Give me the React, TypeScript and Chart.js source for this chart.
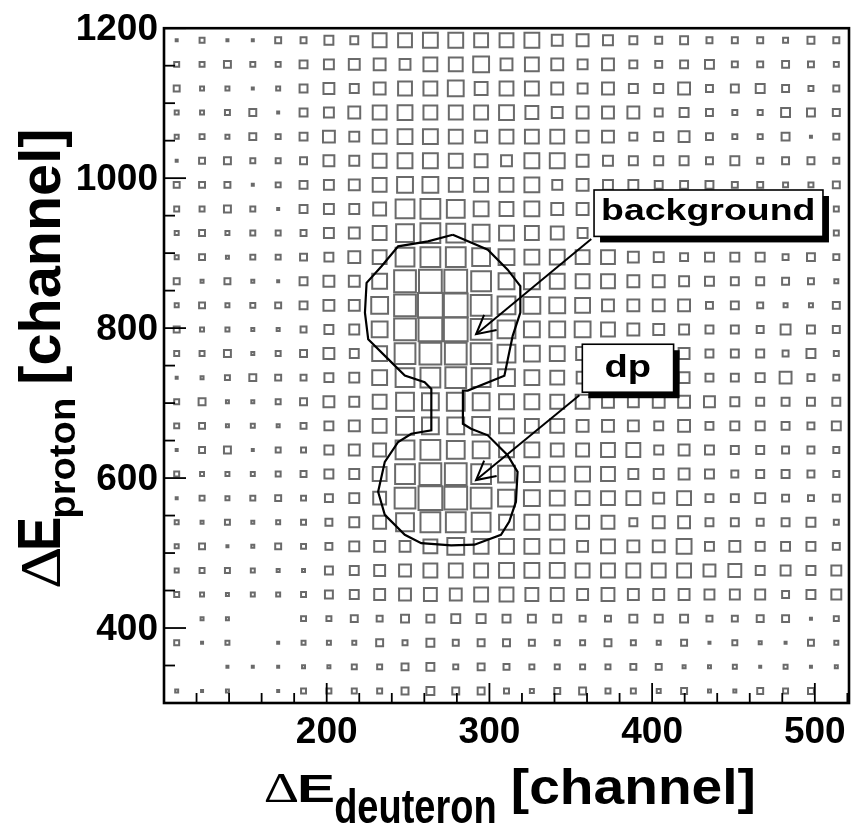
import React, { useEffect, useRef } from 'react';
import { Chart, registerables } from 'chart.js';

Chart.register(...registerables);

// ---------------- axis ranges / binning ----------------
const X_MIN = 100;
const X_MAX = 521;
const X_BINS = 27;
const Y_MIN = 300;
const Y_MAX = 1200;
const Y_BINS = 28;
const X_MINOR_STEP = 20;
const X_MAJOR_STEP = 100;
const X_LABEL_VALUES = [200, 300, 400, 500];
const Y_MINOR_STEP = 50;
const Y_MAJOR_STEP = 200;
const Y_LABEL_VALUES = [400, 600, 800, 1000, 1200];
const BOX_FULL = 25; // content that fills a whole bin

// ---------------- bin contents (rows from top y=1200 down to y=300, columns from x=100 to x=521) ----------------
const binContents: number[][] = [
  [2, 5, 2, 2, 6, 6, 9, 8, 14, 14, 15, 15, 14, 14, 15, 11, 12, 10, 8, 7, 8, 6, 6, 6, 5, 7, 6],
  [5, 5, 7, 5, 5, 8, 10, 11, 12, 11, 14, 14, 16, 12, 14, 12, 10, 12, 8, 7, 8, 9, 6, 6, 7, 6, 5],
  [6, 4, 4, 2, 4, 8, 11, 9, 12, 14, 14, 16, 13, 14, 14, 12, 10, 12, 9, 9, 12, 7, 8, 9, 7, 5, 6],
  [4, 4, 5, 7, 2, 8, 10, 12, 14, 15, 14, 14, 14, 15, 13, 11, 12, 12, 12, 8, 9, 7, 5, 5, 9, 8, 7],
  [4, 5, 4, 7, 5, 8, 12, 10, 14, 15, 15, 14, 12, 14, 14, 14, 12, 12, 8, 9, 11, 7, 5, 5, 8, 2, 6],
  [2, 6, 7, 5, 5, 7, 11, 10, 14, 15, 15, 14, 13, 11, 15, 15, 12, 10, 9, 9, 9, 7, 9, 6, 7, 7, 6],
  [6, 6, 6, 2, 5, 8, 10, 11, 14, 16, 16, 14, 14, 14, 15, 10, 12, 10, 10, 8, 8, 8, 6, 6, 5, 5, 7],
  [5, 5, 7, 5, 2, 8, 10, 10, 13, 19, 20, 18, 15, 14, 15, 12, 12, 10, 9, 9, 8, 8, 7, 7, 6, 6, 5],
  [4, 6, 4, 5, 5, 6, 10, 11, 14, 18, 20, 19, 17, 15, 14, 13, 10, 10, 9, 9, 8, 8, 7, 7, 6, 6, 5],
  [4, 6, 3, 5, 5, 7, 9, 12, 14, 19, 20, 20, 18, 16, 15, 15, 14, 14, 11, 10, 8, 9, 9, 9, 6, 8, 6],
  [6, 3, 6, 3, 2, 8, 11, 11, 15, 22, 23, 23, 20, 16, 16, 15, 14, 14, 12, 12, 10, 9, 8, 8, 7, 6, 4],
  [4, 6, 4, 5, 6, 8, 11, 11, 17, 22, 25, 24, 21, 18, 17, 16, 15, 12, 12, 12, 12, 7, 8, 6, 4, 4, 7],
  [6, 4, 4, 3, 3, 6, 9, 10, 16, 22, 24, 24, 21, 18, 16, 16, 16, 14, 12, 11, 10, 8, 8, 7, 10, 8, 7],
  [5, 5, 7, 3, 5, 7, 11, 9, 15, 21, 22, 22, 21, 18, 16, 15, 13, 12, 11, 11, 11, 8, 8, 8, 6, 9, 5],
  [2, 3, 5, 7, 6, 6, 9, 10, 15, 19, 20, 21, 19, 17, 15, 14, 12, 12, 11, 10, 11, 8, 8, 9, 12, 7, 6],
  [5, 7, 3, 3, 5, 7, 11, 10, 14, 18, 17, 18, 17, 15, 15, 14, 14, 12, 11, 12, 12, 11, 9, 8, 8, 8, 8],
  [5, 6, 3, 4, 3, 6, 9, 11, 14, 18, 17, 17, 18, 15, 14, 14, 12, 12, 11, 9, 12, 8, 9, 9, 8, 7, 9],
  [2, 6, 7, 2, 5, 5, 9, 11, 13, 19, 20, 18, 17, 15, 15, 13, 13, 14, 14, 9, 11, 9, 8, 8, 7, 7, 6],
  [5, 4, 4, 4, 5, 6, 9, 10, 14, 20, 22, 22, 20, 17, 16, 15, 15, 14, 10, 10, 11, 9, 7, 8, 8, 7, 6],
  [2, 5, 4, 5, 6, 5, 8, 10, 13, 21, 24, 23, 21, 17, 16, 15, 14, 14, 14, 11, 14, 8, 8, 10, 7, 6, 7],
  [4, 3, 5, 3, 4, 5, 7, 10, 13, 18, 20, 20, 19, 15, 15, 15, 13, 13, 8, 12, 12, 8, 8, 7, 8, 9, 5],
  [4, 6, 2, 3, 6, 5, 7, 10, 11, 11, 14, 17, 15, 15, 15, 14, 11, 14, 12, 12, 15, 9, 11, 9, 9, 9, 7],
  [4, 5, 5, 4, 3, 3, 8, 9, 11, 12, 14, 14, 14, 15, 15, 15, 14, 14, 14, 14, 14, 12, 13, 9, 10, 9, 10],
  [5, 4, 3, 4, 4, 5, 8, 9, 11, 12, 13, 12, 14, 14, 13, 13, 11, 13, 11, 11, 11, 10, 10, 10, 7, 9, 10],
  [0, 3, 3, 0, 0, 5, 5, 7, 6, 8, 8, 9, 9, 8, 8, 8, 6, 6, 8, 8, 8, 6, 6, 7, 7, 2, 5],
  [5, 2, 4, 0, 2, 4, 4, 4, 7, 5, 8, 6, 7, 7, 6, 5, 5, 7, 5, 4, 6, 2, 5, 3, 2, 6, 4],
  [0, 0, 2, 2, 2, 3, 3, 5, 5, 7, 8, 5, 7, 6, 5, 5, 5, 5, 6, 6, 3, 3, 4, 2, 4, 2, 3],
  [3, 2, 3, 0, 2, 5, 5, 5, 5, 7, 8, 7, 7, 5, 4, 6, 7, 5, 5, 4, 6, 3, 3, 6, 5, 6, 0],
];

// ---------------- graphical cut (closed contour) ----------------
const contourX = [
  277.5, 299.0, 311.2, 319.0, 319.0, 314.3, 309.2, 286.7, 283.7, 283.7, 288.7, 299.0, 311.2,
  317.3, 316.3, 312.2, 307.1, 290.8, 276.5, 258.1, 248.0, 235.7, 231.6, 235.7, 243.9, 252.0,
  264.3, 264.3, 260.2, 248.0, 237.8, 225.5, 223.5, 224.5, 233.7, 243.9, 262.2, 277.5,
];
const contourY = [
  924.5, 904.6, 878.0, 856.0, 820.6, 789.7, 736.6, 716.7, 716.7, 672.4, 665.8, 657.0, 630.5,
  608.3, 568.5, 542.0, 524.4, 511.1, 510.2, 513.2, 524.4, 550.9, 581.8, 621.6, 648.1, 659.1,
  663.6, 718.8, 727.7, 736.6, 758.6, 785.2, 820.6, 860.4, 882.5, 909.1, 915.7, 924.5,
];

// ---------------- labelled arrows ----------------
const annotationTexts = ['background', 'dp'];
const annotationBoxX = [[364.3, 505.0], [357.1, 413.2]];
const annotationBoxY = [[922.3, 984.2], [714.5, 778.5]];
const arrowFrom = [[362.6, 918.8], [355.3, 710.5]];
const arrowTo = [[291.8, 791.8], [291.8, 597.3]];

const annotationStyle = [
  { inkFrac: 0.918, topFrac: 0.18, baseFrac: 0.645 },
  { inkFrac: 0.49, topFrac: 0.21, baseFrac: 0.69 },
];

const SANS = '"Liberation Sans", Arial, Helvetica, sans-serif';
const SERIF = '"Liberation Serif", "Times New Roman", serif';

function fitText(
  ctx: CanvasRenderingContext2D,
  text: string,
  font: string,
  left: number,
  right: number,
  baseline: number,
  top: number
) {
  ctx.save();
  ctx.font = font;
  ctx.textAlign = 'left';
  ctx.textBaseline = 'alphabetic';
  const m = ctx.measureText(text);
  const inkW = m.actualBoundingBoxLeft + m.actualBoundingBoxRight;
  const inkH = m.actualBoundingBoxAscent;
  const sx = (right - left) / inkW;
  const sy = (baseline - top) / inkH;
  ctx.translate(left, baseline);
  ctx.scale(sx, sy);
  ctx.fillStyle = '#000';
  ctx.fillText(text, m.actualBoundingBoxLeft, 0);
  ctx.restore();
}

function drawLine(ctx: CanvasRenderingContext2D, x1: number, y1: number, x2: number, y2: number) {
  ctx.beginPath();
  ctx.moveTo(x1, y1);
  ctx.lineTo(x2, y2);
  ctx.stroke();
}

const rootStylePlugin = {
  id: 'rootStyle',
  afterDatasetsDraw(chart: any) {
    const { ctx, chartArea: a } = chart;
    const xs = chart.scales.x;
    const ys = chart.scales.y;
    ctx.save();
    ctx.strokeStyle = '#000';
    ctx.lineCap = 'butt';
    // inward tick marks
    ctx.lineWidth = 1.8;
    for (let v = X_MIN; v <= X_MAX + 1e-6; v += X_MINOR_STEP) {
      const px = xs.getPixelForValue(v);
      const len = v % X_MAJOR_STEP === 0 ? 20 : 10;
      drawLine(ctx, px, a.bottom, px, a.bottom - len);
    }
    for (let v = Y_MIN; v <= Y_MAX + 1e-6; v += Y_MINOR_STEP) {
      const py = ys.getPixelForValue(v);
      const len = v % Y_MAJOR_STEP === 0 ? 22 : 11;
      drawLine(ctx, a.left, py, a.left + len, py);
    }
    // frame
    ctx.lineWidth = 2.6;
    ctx.strokeRect(a.left, a.top, a.right - a.left, a.bottom - a.top);

    // arrows
    ctx.lineWidth = 2;
    ctx.lineJoin = 'miter';
    for (let i = 0; i < annotationTexts.length; i++) {
      const fx = xs.getPixelForValue(arrowFrom[i][0]);
      const fy = ys.getPixelForValue(arrowFrom[i][1]);
      const tx = xs.getPixelForValue(arrowTo[i][0]);
      const ty = ys.getPixelForValue(arrowTo[i][1]);
      drawLine(ctx, fx, fy, tx, ty);
      const ang = Math.atan2(fy - ty, fx - tx);
      const head = 21;
      const spread = (28 * Math.PI) / 180;
      ctx.beginPath();
      ctx.moveTo(tx + head * Math.cos(ang + spread), ty + head * Math.sin(ang + spread));
      ctx.lineTo(tx, ty);
      ctx.lineTo(tx + head * Math.cos(ang - spread), ty + head * Math.sin(ang - spread));
      ctx.stroke();
    }

    // label boxes with shadow
    for (let i = 0; i < annotationTexts.length; i++) {
      const x0 = xs.getPixelForValue(annotationBoxX[i][0]);
      const x1 = xs.getPixelForValue(annotationBoxX[i][1]);
      const y0 = ys.getPixelForValue(annotationBoxY[i][1]);
      const y1 = ys.getPixelForValue(annotationBoxY[i][0]);
      const w = x1 - x0;
      const h = y1 - y0;
      ctx.fillStyle = '#000';
      ctx.fillRect(x0 + 6, y0 + 6, w, h);
      ctx.fillStyle = '#fff';
      ctx.fillRect(x0, y0, w, h);
      ctx.lineWidth = 1.6;
      ctx.strokeStyle = '#000';
      ctx.strokeRect(x0, y0, w, h);
      const st = annotationStyle[i];
      const inkW = w * st.inkFrac;
      const cx = x0 + w / 2;
      fitText(
        ctx,
        annotationTexts[i],
        `bold 32px ${SANS}`,
        cx - inkW / 2,
        cx + inkW / 2,
        y0 + h * st.baseFrac,
        y0 + h * st.topFrac
      );
    }
    ctx.restore();
  },
  afterDraw(chart: any) {
    const ctx: CanvasRenderingContext2D = chart.ctx;
    // x-axis title:  ΔE_deuteron [channel]
    fitText(ctx, '\u0394', `normal 40px ${SERIF}`, 265, 298, 802, 775);
    fitText(ctx, 'E', `bold 38px ${SANS}`, 300, 333, 802, 775);
    fitText(ctx, 'deuteron', `bold 44px ${SANS}`, 335, 495, 822.7, 787.3);
    fitText(ctx, '[channel]', `bold 50px ${SANS}`, 513, 753, 804, 768.3);
    // y-axis title (rotated): ΔE_proton [channel]
    ctx.save();
    ctx.rotate(-Math.PI / 2);
    fitText(ctx, '\u0394', `normal 55px ${SERIF}`, -586.7, -548.3, 60, 23.3);
    fitText(ctx, 'E', `bold 58px ${SANS}`, -548.3, -518.3, 60, 18.3);
    fitText(ctx, 'proton', `bold 38px ${SANS}`, -516.7, -400, 75, 50);
    fitText(ctx, '[channel]', `bold 57px ${SANS}`, -381.7, -131.7, 60, 18.3);
    ctx.restore();
  },
};

export default function App() {
  const canvasRef = useRef<HTMLCanvasElement | null>(null);

  useEffect(() => {
    document.body.style.margin = '0';
    const canvas = canvasRef.current;
    if (!canvas) return;

    const xBinW = (X_MAX - X_MIN) / X_BINS;
    const yBinH = (Y_MAX - Y_MIN) / Y_BINS;
    const xCenters = Array.from({ length: X_BINS }, (_, i) => X_MIN + (i + 0.5) * xBinW);
    const yCenters = Array.from({ length: Y_BINS }, (_, r) => Y_MAX - (r + 0.5) * yBinH);

    const boxPoints: { x: number; y: number; v: number }[] = [];
    binContents.forEach((row, r) =>
      row.forEach((v, c) => {
        if (v > 0) boxPoints.push({ x: xCenters[c], y: yCenters[r], v });
      })
    );
    const contourPoints = contourX.map((x, i) => ({ x, y: contourY[i] }));

    const tickFont = { family: SANS, size: 37, weight: 'bold' as const };

    const chart = new Chart(canvas, {
      type: 'scatter',
      data: {
        datasets: [
          {
            label: 'cut',
            data: contourPoints,
            showLine: true,
            borderColor: '#000',
            borderWidth: 2.2,
            pointRadius: 0,
            fill: false,
            tension: 0,
            order: 0,
          } as any,
          {
            label: 'counts',
            data: boxPoints,
            showLine: false,
            pointStyle: 'rect',
            pointRadius: (c: any) => {
              const p = c.raw;
              if (!p || !p.v) return 0;
              const xs = c.chart.scales.x;
              const ys = c.chart.scales.y;
              const cw = Math.abs(xs.getPixelForValue(X_MIN + xBinW) - xs.getPixelForValue(X_MIN));
              const ch = Math.abs(ys.getPixelForValue(Y_MIN + yBinH) - ys.getPixelForValue(Y_MIN));
              const side = (p.v / BOX_FULL) * ((cw + ch) / 2);
              return side / Math.SQRT2;
            },
            pointBorderColor: '#6a6a6a',
            borderColor: '#6a6a6a',
            pointBorderWidth: 2,
            pointBackgroundColor: 'rgba(0,0,0,0)',
            backgroundColor: 'rgba(0,0,0,0)',
            order: 1,
          } as any,
        ],
      },
      options: {
        responsive: false,
        animation: false,
        devicePixelRatio: 1,
        events: [],
        layout: { padding: { top: 25, right: 5, left: 0, bottom: 0 } },
        plugins: {
          legend: { display: false },
          tooltip: { enabled: false },
        },
        scales: {
          x: {
            type: 'linear',
            min: X_MIN,
            max: X_MAX,
            grid: { display: false, drawTicks: false },
            border: { display: false },
            ticks: {
              stepSize: X_MINOR_STEP,
              autoSkip: false,
              maxRotation: 0,
              padding: 8,
              color: '#000',
              font: tickFont,
              callback: (v: any) => (X_LABEL_VALUES.includes(Number(v)) ? String(v) : ''),
            },
            afterFit: (s: any) => {
              s.height = 128;
            },
          },
          y: {
            type: 'linear',
            min: Y_MIN,
            max: Y_MAX,
            grid: { display: false, drawTicks: false },
            border: { display: false },
            ticks: {
              stepSize: Y_MINOR_STEP,
              autoSkip: false,
              padding: 6,
              labelOffset: 2,
              color: '#000',
              font: tickFont,
              callback: (v: any) => (Y_LABEL_VALUES.includes(Number(v)) ? String(v) : ''),
            },
            afterFit: (s: any) => {
              s.width = 164;
            },
          },
        },
      },
      plugins: [rootStylePlugin],
    });

    return () => chart.destroy();
  }, []);

  return (
    <div style={{ position: 'absolute', left: 0, top: 0, width: 857, height: 831, background: '#fff' }}>
      <canvas ref={canvasRef} width={857} height={831} style={{ display: 'block' }} />
    </div>
  );
}
